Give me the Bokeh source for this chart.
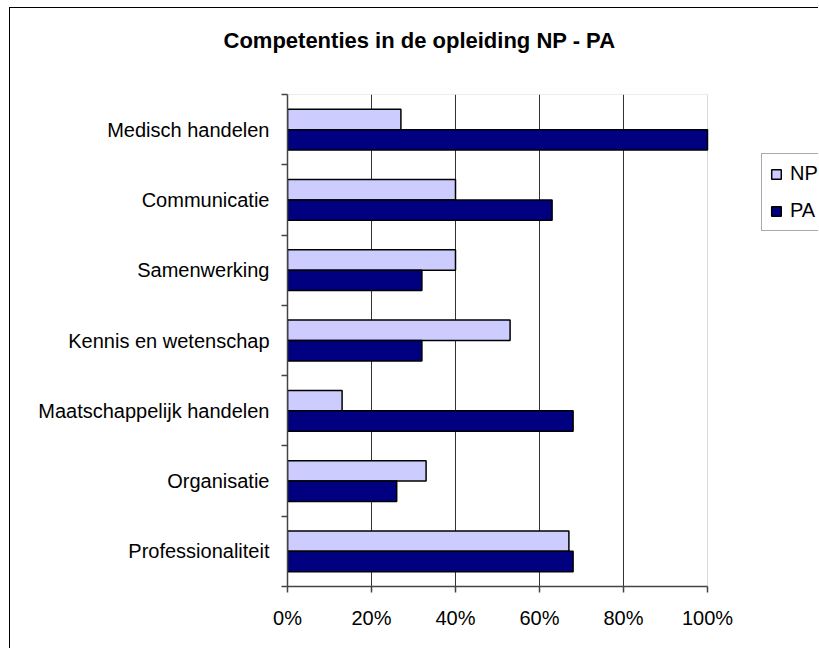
from bokeh.plotting import figure
from bokeh.models import (ColumnDataSource, Range1d, FixedTicker, PrintfTickFormatter,
                          Legend, LegendItem, Title, BoxAnnotation)
from bokeh.embed import file_html
from bokeh.resources import INLINE

# ---- data ----
categories = ["Medisch handelen", "Communicatie", "Samenwerking", "Kennis en wetenschap",
              "Maatschappelijk handelen", "Organisatie", "Professionaliteit"]
np_values = [27, 40, 40, 53, 13, 33, 67]
pa_values = [100, 63, 32, 32, 68, 26, 68]
x_ticks = [0, 20, 40, 60, 80, 100]
title_text = "Competenties in de opleiding NP - PA"

FONT = "Liberation Sans"
BAR_H = 0.29
OFF = 0.145

# layout (pixels)
W, H = 818, 648
LEFT, TOP, BOTTOM = 287, 94, 62
PLOT_W = 420                      # pixel width of the 0..100 % area
frame_w = W - LEFT
x_end = x_ticks[-1] * frame_w / PLOT_W   # frame extends to the right edge (legend area)

centers = [i + 0.5 for i in range(len(categories))]
src_np = ColumnDataSource(dict(y=[c - OFF for c in centers], v=np_values))
src_pa = ColumnDataSource(dict(y=[c + OFF for c in centers], v=pa_values))

p = figure(width=W, height=H, output_backend="svg", toolbar_location=None,
           x_range=Range1d(0, x_end), y_range=Range1d(len(categories), 0),
           min_border_left=LEFT, min_border_top=TOP, min_border_right=0, min_border_bottom=BOTTOM,
           title=None)
# chart-area frame (top and left edge) drawn behind a transparent border area
p.styles = {"background": "linear-gradient(#000,#000) 9px 7px / 1px 100% no-repeat, "
                          "linear-gradient(#000,#000) 9px 7px / 100% 1px no-repeat, white"}
p.background_fill_color = "white"
p.border_fill_color = None
p.outline_line_color = None

# plot-area box (0..100 %)
p.add_layout(BoxAnnotation(left=x_ticks[0], right=x_ticks[-1], fill_alpha=0,
                           line_color="#808080", line_width=1, level="underlay"))

r_np = p.hbar(y="y", left=0, right="v", height=BAR_H, source=src_np,
              fill_color="#CCCCFF", line_color="black", line_width=1.5)
r_pa = p.hbar(y="y", left=0, right="v", height=BAR_H, source=src_pa,
              fill_color="#000080", line_color="black", line_width=1.5)

# x axis
p.xaxis.ticker = FixedTicker(ticks=x_ticks, minor_ticks=[])
p.xaxis.bounds = (x_ticks[0], x_ticks[-1])
p.xaxis.formatter = PrintfTickFormatter(format="%d%%")
p.xaxis.major_tick_out = 6
p.xaxis.major_tick_in = 0
p.xaxis.major_label_standoff = 14
p.xaxis.major_label_text_font = FONT
p.xaxis.major_label_text_font_size = "20px"
p.xaxis.major_label_text_color = "black"
p.xaxis.axis_line_color = "#444444"
p.xaxis.axis_line_width = 1.5
p.xaxis.major_tick_line_color = "#444444"
p.xaxis.major_tick_line_width = 1.5

# y axis
p.yaxis.ticker = FixedTicker(ticks=centers, minor_ticks=list(range(len(categories) + 1)))
p.yaxis.major_label_overrides = {c: name for c, name in zip(centers, categories)}
p.yaxis.major_tick_line_color = None
p.yaxis.major_tick_out = 0
p.yaxis.major_tick_in = 0
p.yaxis.minor_tick_out = 6
p.yaxis.minor_tick_in = 0
p.yaxis.minor_tick_line_color = "#444444"
p.yaxis.minor_tick_line_width = 1.5
p.yaxis.major_label_standoff = 12
p.yaxis.major_label_text_font = FONT
p.yaxis.major_label_text_font_size = "20px"
p.yaxis.major_label_text_color = "black"
p.yaxis.axis_line_color = "#444444"
p.yaxis.axis_line_width = 1.5

# grid (vertical lines at 20..80 %; 0 and 100 come from axis/box)
p.xgrid.ticker = FixedTicker(ticks=x_ticks[1:-1])
p.xgrid.grid_line_color = "#333333"
p.xgrid.grid_line_width = 1
p.ygrid.grid_line_color = None

# spacer between plot area and title, then the title itself
p.add_layout(Title(text=" ", text_font_size="10px", standoff=27), "above")
t = Title(text=title_text, align="left", offset=-64, standoff=0, vertical_align="top",
          text_font=FONT, text_font_size="22px", text_font_style="bold", text_color="black")
p.add_layout(t, "above")

legend = Legend(items=[LegendItem(label="NP", renderers=[r_np]),
                       LegendItem(label="PA", renderers=[r_pa])],
                location=(474, 355), orientation="vertical")
legend.label_text_font = FONT
legend.label_text_font_size = "20px"
legend.label_text_color = "black"
legend.glyph_width = 12
legend.glyph_height = 12
legend.label_standoff = 8
legend.padding = 8
legend.spacing = 14
legend.margin = 0
legend.border_line_color = "#555555"
legend.border_line_width = 1
legend.background_fill_alpha = 1
p.add_layout(legend, "center")

open("out.html", "w").write(file_html(p, INLINE))
